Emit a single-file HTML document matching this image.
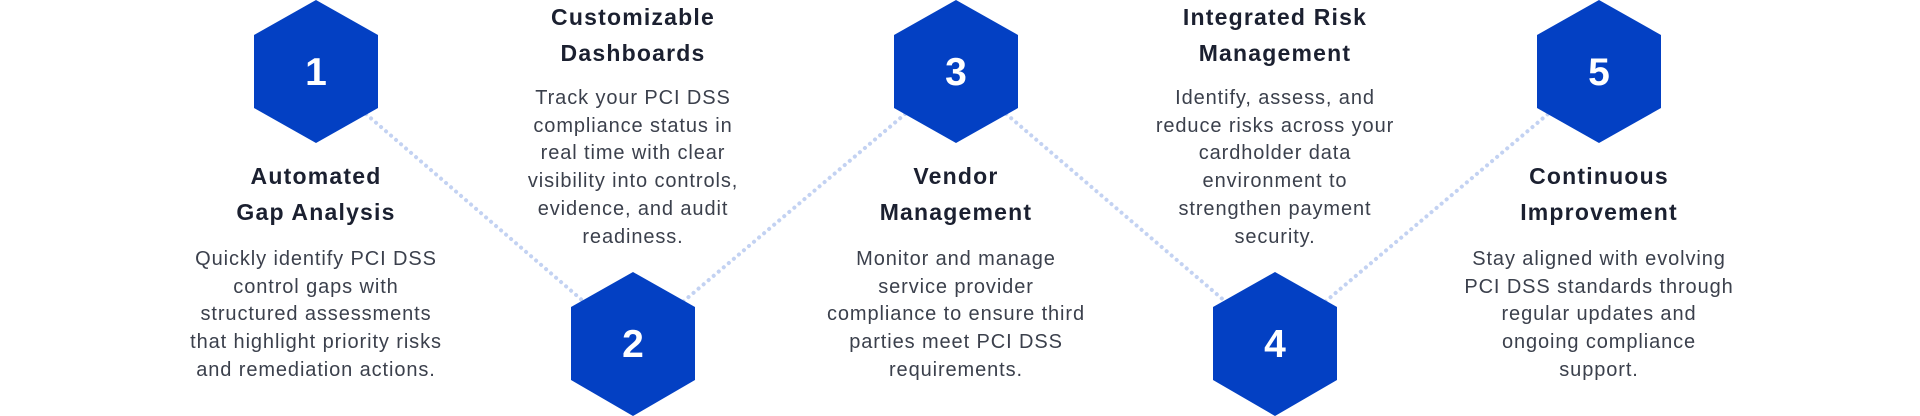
<!DOCTYPE html>
<html><head><meta charset="utf-8"><style>
html,body{margin:0;padding:0;background:#fff;width:1920px;height:416px;overflow:hidden;position:relative;font-family:"Liberation Sans",sans-serif}
svg{position:absolute;left:0;top:0}
.t{position:absolute;width:400px;text-align:center;color:#1b2030;font-weight:bold;font-size:23px;line-height:36px;letter-spacing:1.2px}
.b{position:absolute;width:400px;text-align:center;color:#3b404c;font-size:20px;line-height:27.7px;letter-spacing:0.9px}
</style></head><body>
<svg width="1920" height="416" viewBox="0 0 1920 416">
<g stroke="#c3d2f2" stroke-width="4" stroke-dasharray="0.1 6.5" stroke-linecap="round" fill="none">
<line x1="316" y1="71" x2="633" y2="344"/>
<line x1="633" y1="344" x2="956" y2="71"/>
<line x1="956" y1="71" x2="1275" y2="344"/>
<line x1="1275" y1="344" x2="1599" y2="71"/>
</g>
<g fill="#0340c3">
<polygon points="316,0 378,35 378,108 316,143 254,108 254,35"/>
<polygon points="633,272 695,307 695,380 633,416 571,380 571,307"/>
<polygon points="956,0 1018,35 1018,108 956,143 894,108 894,35"/>
<polygon points="1275,272 1337,307 1337,380 1275,416 1213,380 1213,307"/>
<polygon points="1599,0 1661,35 1661,108 1599,143 1537,108 1537,35"/>
</g>
<g fill="#fff" font-family="Liberation Sans, sans-serif" font-weight="bold" font-size="39" text-anchor="middle">
<text x="316" y="85">1</text>
<text x="633" y="357">2</text>
<text x="956" y="85">3</text>
<text x="1275" y="357">4</text>
<text x="1599" y="85">5</text>
</g>
</svg>
<div class="t" style="left:116px;top:158px">Automated<br>Gap Analysis</div>
<div class="b" style="left:116px;top:246px">Quickly identify PCI DSS<br>control gaps with<br>structured assessments<br>that highlight priority risks<br>and remediation actions.</div>
<div class="t" style="left:433px;top:-1px">Customizable<br>Dashboards</div>
<div class="b" style="left:433px;top:85px">Track your PCI DSS<br>compliance status in<br>real time with clear<br>visibility into controls,<br>evidence, and audit<br>readiness.</div>
<div class="t" style="left:756px;top:158px">Vendor<br>Management</div>
<div class="b" style="left:756px;top:246px">Monitor and manage<br>service provider<br>compliance to ensure third<br>parties meet PCI DSS<br>requirements.</div>
<div class="t" style="left:1075px;top:-1px">Integrated Risk<br>Management</div>
<div class="b" style="left:1075px;top:85px">Identify, assess, and<br>reduce risks across your<br>cardholder data<br>environment to<br>strengthen payment<br>security.</div>
<div class="t" style="left:1399px;top:158px">Continuous<br>Improvement</div>
<div class="b" style="left:1399px;top:246px">Stay aligned with evolving<br>PCI DSS standards through<br>regular updates and<br>ongoing compliance<br>support.</div>
</body></html>
